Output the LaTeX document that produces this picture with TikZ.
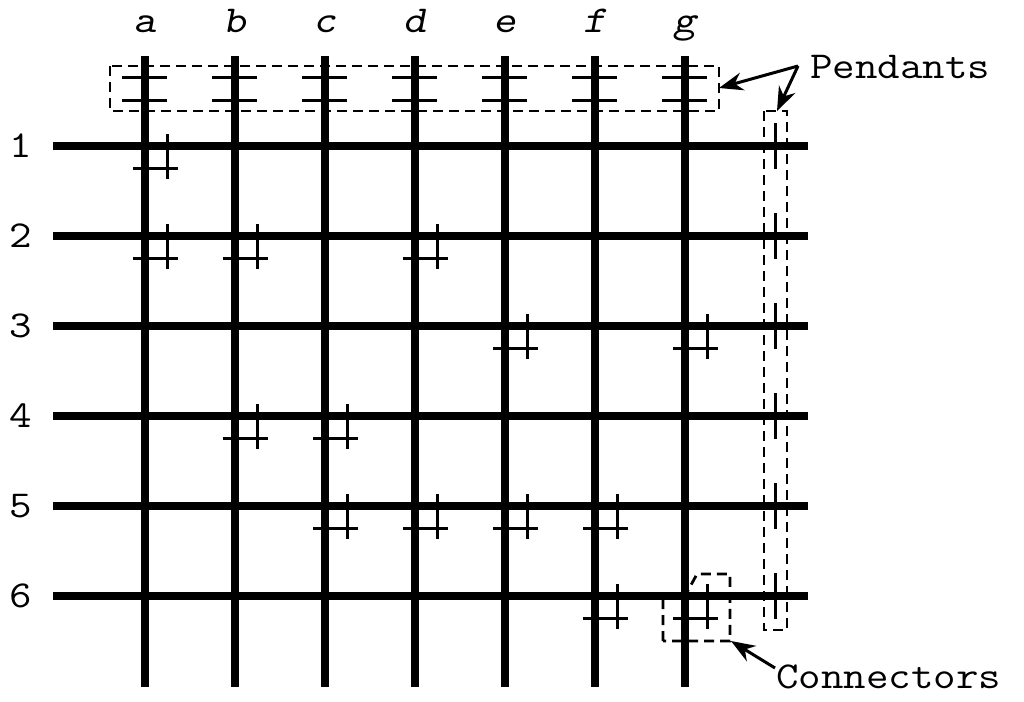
\documentclass[tikz,border=0pt]{standalone}
\usepackage{graphicx}
\usetikzlibrary{arrows.meta}
\newcommand{\cw}[1]{\scalebox{1.15}[1]{#1}}
\begin{document}
\begin{tikzpicture}[x=1pt,y=-1pt,
  grid/.style={line width=8.8pt},
  thin/.style={line width=3pt},
  box/.style={line width=2.8pt,dash pattern=on 10pt off 6pt},
  lbl/.style={font=\ttfamily\fontsize{38}{40}\selectfont,inner sep=0pt},
  ilbl/.style={font=\ttfamily\slshape\fontsize{38}{40}\selectfont,inner sep=0pt},
  pointer/.style={line width=3pt,-{Stealth[length=24pt,width=18pt]}}]
\useasboundingbox (0,0) rectangle (1024,701);
% column lines and labels
\foreach \n/\x in {a/145,b/235,c/325,d/415,e/505,f/595,g/685}{
  \draw[grid] (\x,56) -- (\x,687);
  \node[ilbl,anchor=base] (col\n) at (\x,33) {\cw{\n}};
  \draw[thin] (\x-23,77) -- (\x+22,77);
  \draw[thin] (\x-23,100) -- (\x+22,100);
}
% row lines and labels
\foreach \r/\y in {1/146,2/236,3/326,4/416,5/506,6/596}{
  \draw[grid] (53,\y) -- (808,\y);
  \node[lbl,anchor=base] (row\r) at (21,\y+11) {\cw{\r}};
  \draw[thin] (775,\y-23) -- (775,\y+23);
}
% connectors
\foreach \x/\y in {145/146, 145/236,235/236,415/236, 505/326,685/326,
  235/416,325/416, 325/506,415/506,505/506,595/506, 595/596,685/596}{
  \draw[thin] (\x+22,\y-12) -- (\x+22,\y+33);
  \draw[thin] (\x-12,\y+22) -- (\x+33,\y+22);
}
% dashed boxes
\draw[box] (110,66) rectangle (719,111);
\draw[box] (764,111) rectangle (787,630);
\draw[box] (663,641) -- (663,596) -- (685,596) -- (697,574) -- (730,574) -- (730,641) -- cycle;
\coordinate (topbox) at (719,88);
\coordinate (rightbox) at (777,111);
\coordinate (connbox) at (731,641);
% labels with pointers
\node[lbl,anchor=base west] (pend) at (810,78) {\cw{Pendants}};
\node[lbl,anchor=base west] (conn) at (776,688) {\cw{Connectors}};
\coordinate (ps) at (798,66);
\draw[pointer] (ps) -- (topbox);
\draw[pointer] (ps) -- (rightbox);
\draw[pointer] (775,668) -- (connbox);
\end{tikzpicture}
\end{document}
